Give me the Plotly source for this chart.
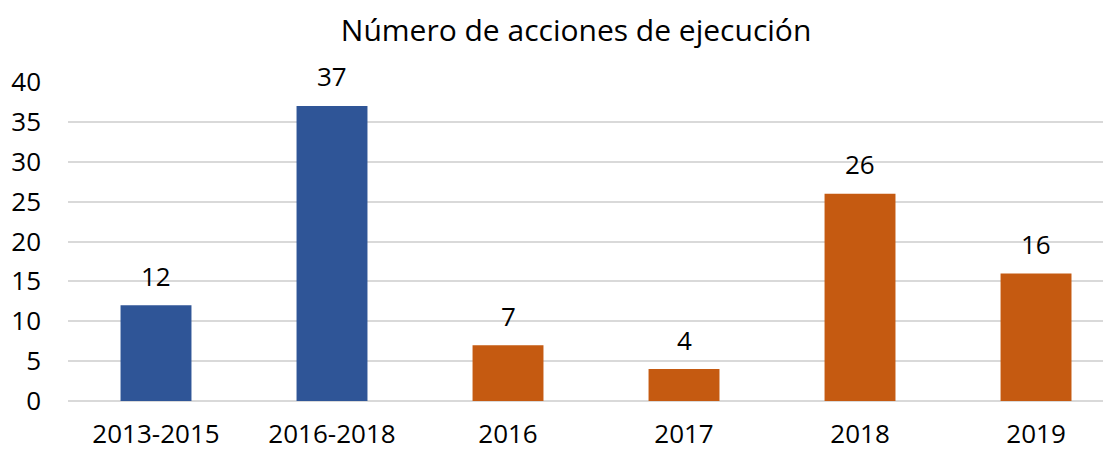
import plotly.graph_objects as go

categories = ["2013-2015", "2016-2018", "2016", "2017", "2018", "2019"]
values = [12, 37, 7, 4, 26, 16]
colors = ["#2F5597", "#2F5597", "#C55A11", "#C55A11", "#C55A11", "#C55A11"]
title = "Número de acciones de ejecución"
y_ticks = [0, 5, 10, 15, 20, 25, 30, 35, 40]

FONT = "Open Sans, Liberation Sans, sans-serif"

fig = go.Figure()
fig.add_trace(go.Bar(
    x=categories, y=values, marker=dict(color=colors, line=dict(width=0)),
    showlegend=False, hoverinfo="x+y",
))
for i, v in enumerate(values):
    fig.add_annotation(x=i, y=v, xref="x", yref="y", text=str(v), showarrow=False,
                       yanchor="middle", yshift=29.5,
                       font=dict(size=26, color="#000000", family=FONT))

fig.update_layout(
    width=1103, height=443,
    margin=dict(l=60, r=0, t=74, b=50),
    paper_bgcolor="white", plot_bgcolor="white",
    bargap=0.597,
    title=dict(text=title, x=0.515, xanchor="center", y=1 - 22 / 443, yanchor="middle",
               xref="container", yref="container",
               font=dict(size=30, color="#000000", family=FONT)),
    font=dict(family=FONT, color="#000000"),
)
fig.update_xaxes(type="category", range=[-0.5, 5.426], showline=False, ticks="",
                 tickfont=dict(size=26, color="#000000"), showgrid=False,
                 ticklabelstandoff=15, automargin=False)
fig.update_yaxes(range=[0, 40], tickvals=y_ticks, showgrid=True, gridcolor="#D9D9D9",
                 gridwidth=1.5, zeroline=True, zerolinecolor="#D9D9D9", zerolinewidth=1.5,
                 tickfont=dict(size=26, color="#000000"), ticks="", ticklabelstandoff=26,
                 automargin=False)

fig.write_html("out.html")
